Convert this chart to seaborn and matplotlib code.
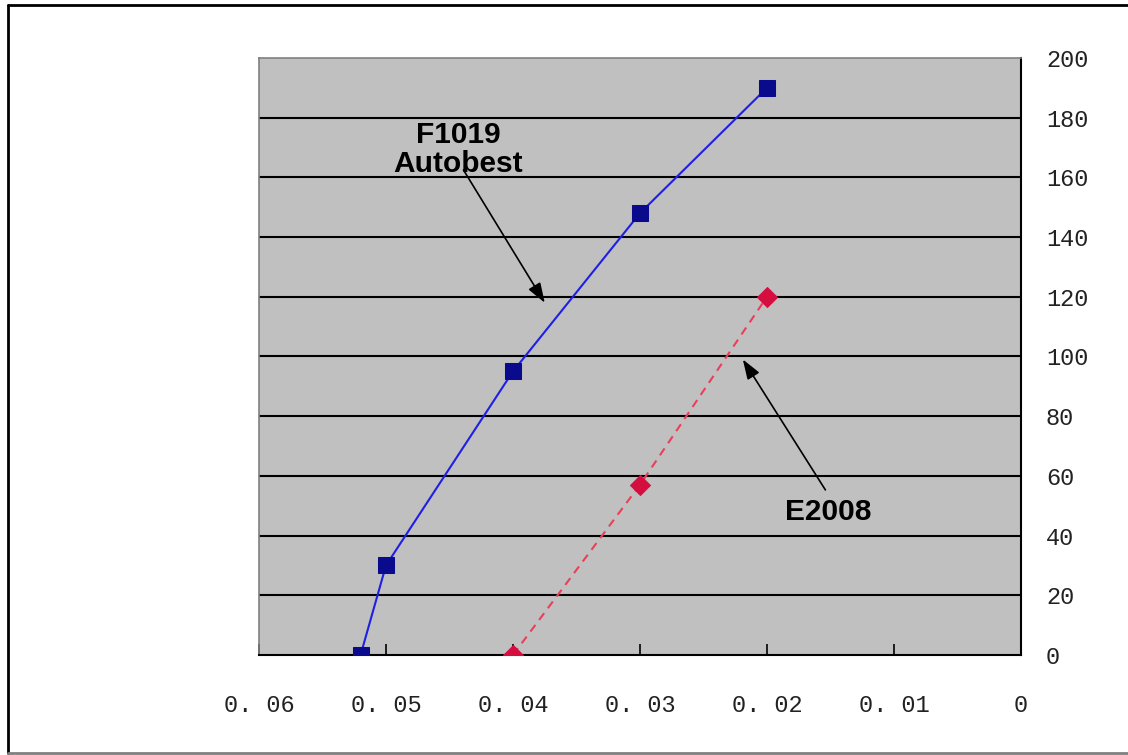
import numpy as np
import pandas as pd
import seaborn as sns
from matplotlib import pyplot as plt
from matplotlib.lines import Line2D

# Values
f1019_x = [0.052, 0.050, 0.040, 0.030, 0.020]
f1019_y = [0, 30, 95, 148, 190]
e2008_x = [0.040, 0.030, 0.020]
e2008_y = [0, 57, 120]
x_ticks = [0.06, 0.05, 0.04, 0.03, 0.02, 0.01, 0.0]
x_labels = ["0. 06", "0. 05", "0. 04", "0. 03", "0. 02", "0. 01", "0"]
y_ticks = list(range(0, 201, 20))

f1019 = pd.DataFrame({"x": f1019_x, "y": f1019_y})
e2008 = pd.DataFrame({"x": e2008_x, "y": e2008_y})

sns.set_theme(style="white")
plt.rcParams["font.family"] = ["Liberation Mono", "DejaVu Sans Mono"]
plt.rcParams["text.color"] = "black"

fig = plt.figure(figsize=(11.28, 7.55), dpi=100)
ax = fig.add_axes([0.2296, 0.1325, 0.6755, 0.7907])
ax.set_facecolor("#c0c0c0")

sns.lineplot(data=f1019, x="x", y="y", ax=ax, color="#1f1fe6", lw=1.5,
             marker="s", markersize=11, markerfacecolor="#0a0a8c",
             markeredgecolor="#0a0a8c", sort=False, zorder=4)
sns.lineplot(data=e2008, x="x", y="y", ax=ax, color="#e8405a", lw=1.5,
             linestyle=(0, (4, 3)), marker="D", markersize=10,
             markerfacecolor="#d40f40", markeredgecolor="#d40f40",
             sort=False, zorder=4)

ax.set_xlim(0.06, 0.0)
ax.set_ylim(0, 200)
ax.set_xticks(x_ticks)
ax.set_xticklabels(x_labels)
ax.set_yticks(y_ticks)
ax.yaxis.tick_right()
ax.tick_params(axis="x", direction="in", length=8, width=1.2, color="black",
               pad=28, labelsize=17, labelcolor="#222222", bottom=True)
ax.tick_params(axis="y", length=0, pad=18, labelsize=17, labelcolor="#222222",
               right=True, left=False)
for lbl in ax.get_yticklabels():
    lbl.set_horizontalalignment("left")
ax.set_xlabel("")
ax.set_ylabel("")

for yv in y_ticks[1:-1]:
    ax.axhline(yv, color="black", lw=1.5, zorder=1)

for side in ["bottom", "right"]:
    ax.spines[side].set_color("black")
    ax.spines[side].set_linewidth(1.5)
for side in ["top", "left"]:
    ax.spines[side].set_color("#808080")
    ax.spines[side].set_linewidth(1.2)

arrow = dict(arrowstyle="-|>,head_length=1.0,head_width=0.35",
             color="black", lw=1.2, shrinkA=0, shrinkB=0)

ax.text(0.0443, 179, "F1019\nAutobest", ha="center", va="top", fontsize=21.5,
        fontweight="bold", family="Liberation Sans", color="black",
        linespacing=1.05, zorder=5)
ax.annotate("", xy=(0.0375, 118), xytext=(0.0439, 162.5), arrowprops=arrow)

ax.text(0.0152, 48, "E2008", ha="center", va="center", fontsize=21.5,
        fontweight="bold", family="Liberation Sans", color="black", zorder=5)
ax.annotate("", xy=(0.0219, 99), xytext=(0.0154, 55.3), arrowprops=arrow)

# outer chart frame
fig.lines.append(Line2D([0.0071, 0.0071], [0.003, 0.9934], transform=fig.transFigure,
                        color="black", lw=2))
fig.lines.append(Line2D([0.0071, 1.0], [0.9934, 0.9934], transform=fig.transFigure,
                        color="black", lw=2))
fig.lines.append(Line2D([0.0071, 1.0], [0.003, 0.003], transform=fig.transFigure,
                        color="#808080", lw=2))

fig.savefig("out.png", dpi=100)
